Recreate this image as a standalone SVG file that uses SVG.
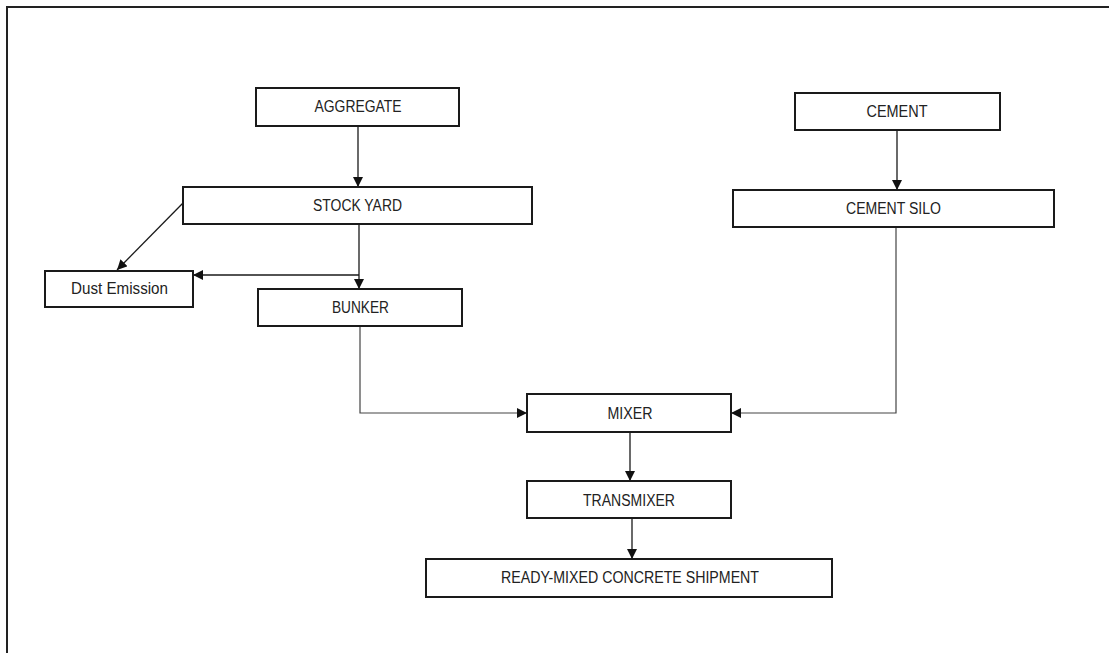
<svg xmlns="http://www.w3.org/2000/svg" width="1109" height="653" viewBox="0 0 1109 653">
<style>
.box{fill:#fff;stroke:#1a1a1a;stroke-width:2}
.lbl{font-family:"Liberation Sans",Arial,sans-serif;font-size:16px;fill:#222;text-anchor:middle}
.ln{fill:none;stroke:#1a1a1a;stroke-width:1.3}
.ln2{fill:none;stroke:#444;stroke-width:1.2}
</style>
<defs>
<marker id="ah" markerUnits="userSpaceOnUse" markerWidth="11" markerHeight="10" refX="10" refY="5" orient="auto">
<path d="M0,0 L10,5 L0,10 Z" fill="#111"/>
</marker>
</defs>
<rect width="1109" height="653" fill="#fff"/>
<g id="frame">
<path d="M7,653 L7,7 L1109,7" fill="none" stroke="#222" stroke-width="2"/>
</g>
<g id="connectors">
<path class="ln" d="M358,126 L358,187" marker-end="url(#ah)"/>
<path class="ln" d="M897,130 L897,190" marker-end="url(#ah)"/>
<path class="ln" d="M359,224 L359,289" marker-end="url(#ah)"/>
<path class="ln" d="M359,275 L193,275" marker-end="url(#ah)"/>
<path class="ln" d="M183,203 L117,270" marker-end="url(#ah)"/>
<path class="ln2" d="M360,326 L360,413 L527,413" marker-end="url(#ah)"/>
<path class="ln2" d="M896,227 L896,413 L731,413" marker-end="url(#ah)"/>
<path class="ln" d="M630,432 L630,481" marker-end="url(#ah)"/>
<path class="ln" d="M632,518 L632,559" marker-end="url(#ah)"/>
</g>
<g id="aggregate">
<rect class="box" x="256" y="88" width="203" height="38"/>
<text class="lbl" x="358" y="112" textLength="87" lengthAdjust="spacingAndGlyphs">AGGREGATE</text>
</g>
<g id="cement">
<rect class="box" x="795" y="93" width="205" height="37"/>
<text class="lbl" x="897" y="117" textLength="61" lengthAdjust="spacingAndGlyphs">CEMENT</text>
</g>
<g id="stock-yard">
<rect class="box" x="183" y="187" width="349" height="37"/>
<text class="lbl" x="357.5" y="211" textLength="89" lengthAdjust="spacingAndGlyphs">STOCK YARD</text>
</g>
<g id="cement-silo">
<rect class="box" x="733" y="190" width="321" height="37"/>
<text class="lbl" x="893.5" y="214" textLength="95" lengthAdjust="spacingAndGlyphs">CEMENT SILO</text>
</g>
<g id="dust-emission">
<rect class="box" x="45" y="271" width="148" height="36"/>
<text class="lbl" x="119.5" y="294" textLength="97" lengthAdjust="spacingAndGlyphs">Dust Emission</text>
</g>
<g id="bunker">
<rect class="box" x="258" y="289" width="204" height="37"/>
<text class="lbl" x="360.5" y="313" textLength="57" lengthAdjust="spacingAndGlyphs">BUNKER</text>
</g>
<g id="mixer">
<rect class="box" x="527" y="394" width="204" height="38"/>
<text class="lbl" x="630" y="419" textLength="45" lengthAdjust="spacingAndGlyphs">MIXER</text>
</g>
<g id="transmixer">
<rect class="box" x="527" y="481" width="204" height="37"/>
<text class="lbl" x="629" y="506" textLength="92" lengthAdjust="spacingAndGlyphs">TRANSMIXER</text>
</g>
<g id="ready-mixed">
<rect class="box" x="426" y="559" width="406" height="38"/>
<text class="lbl" x="630" y="583" textLength="258" lengthAdjust="spacingAndGlyphs">READY-MIXED CONCRETE SHIPMENT</text>
</g>
</svg>
